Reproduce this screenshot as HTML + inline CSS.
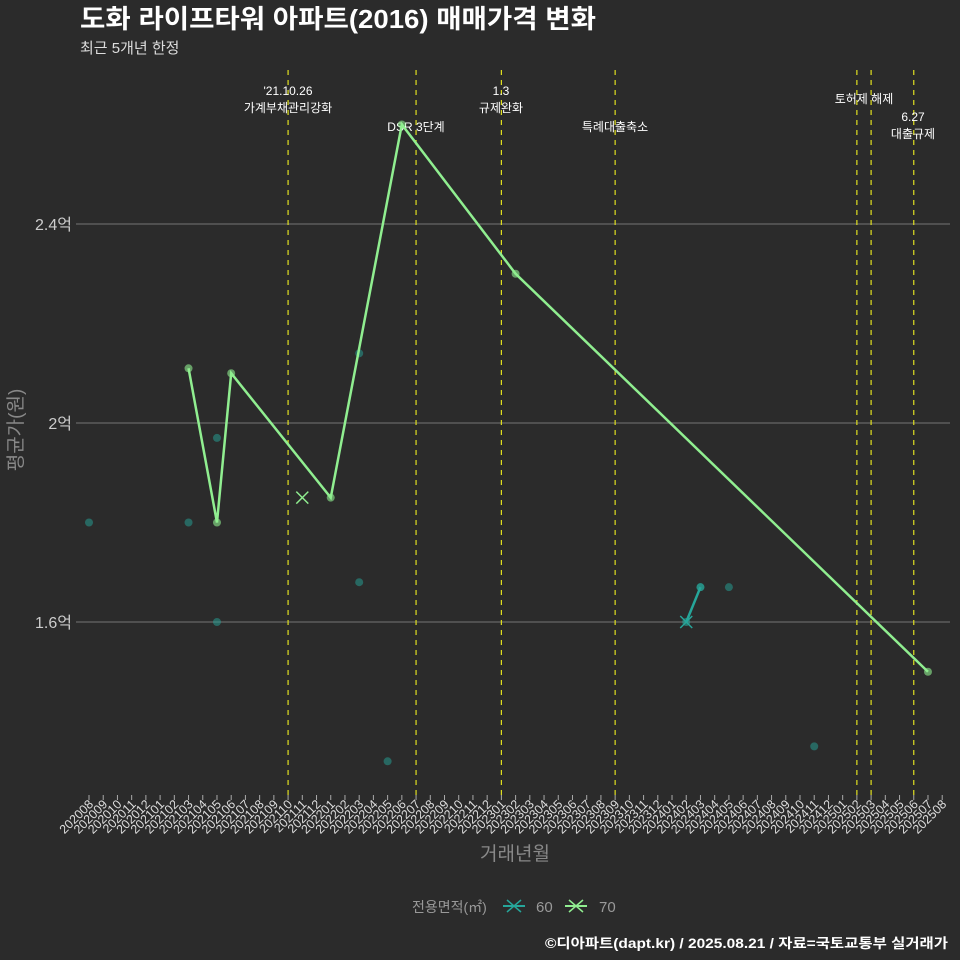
<!DOCTYPE html>
<html><head><meta charset="utf-8"><style>
body{margin:0;background:#2b2b2b;}
svg{display:block;font-family:"Liberation Sans","Noto Sans CJK KR",sans-serif;}
</style></head><body>
<svg id="c" width="960" height="960" viewBox="0 0 960 960">
<rect width="960" height="960" fill="#2b2b2b"/>
<text x="80" y="28" font-size="26" font-weight="bold" fill="#fff" textLength="516" lengthAdjust="spacingAndGlyphs">도화 라이프타워 아파트(2016) 매매가격 변화</text>
<text x="80" y="53" font-size="15" fill="#ddd">최근 5개년 한정</text>
<g id="grid"></g><g id="vlines"></g><g id="xaxis"></g><g id="marks"></g>
<text x="22" y="430" font-size="19" fill="#888" text-anchor="middle" transform="rotate(-90 22 430)">평균가(원)</text>
<text x="515" y="860" font-size="19" fill="#888" text-anchor="middle">거래년월</text>
<g>
<text x="412" y="912" font-size="14" fill="#999">전용면적(㎡)</text>
<g><line x1="503" y1="906" x2="525" y2="906" stroke="#26a69a" stroke-width="2"/><path d="M507 900 L521 912 M521 900 L507 912" stroke="#26a69a" stroke-width="1.5"/><text x="536" y="912" font-size="15" fill="#999">60</text></g>
<g><line x1="565" y1="906" x2="587" y2="906" stroke="#90ee90" stroke-width="2"/><path d="M569 900 L583 912 M583 900 L569 912" stroke="#90ee90" stroke-width="1.5"/><text x="599" y="912" font-size="15" fill="#999">70</text></g>
</g>
<text x="948" y="948" font-size="13.5" font-weight="bold" fill="#fff" text-anchor="end" textLength="403" lengthAdjust="spacingAndGlyphs">©디아파트(dapt.kr) / 2025.08.21 / 자료=국토교통부 실거래가</text>
</svg>
<script>
const months=[];for(let y=2020;y<=2025;y++)for(let m=1;m<=12;m++){const s=y+String(m).padStart(2,'0');if(s>='202008'&&s<='202508')months.push(s);}
const yTicks=[1.6,2.0,2.4];
const yTickLabels=['1.6억','2억','2.4억'];
const s70Months=['202103','202105','202106','202201','202206','202302','202507'];
const s70Values=[2.11,1.80,2.10,1.85,2.60,2.30,1.50];
const s60Months=['202402','202403'];
const s60Values=[1.60,1.67];
const xMarkMonths=['202111'];
const xMarkValues=[1.85];
const dots60Months=['202008','202103','202105','202105','202203','202203','202205','202403','202405','202411'];
const dots60Values=[1.80,1.80,1.97,1.60,2.14,1.68,1.32,1.67,1.67,1.35];
const eventMonths=['202110','202207','202301','202309','202502','202503','202506'];
const eventLabels=[["'21.10.26","가계부채관리강화"],["DSR 3단계"],["1.3","규제완화"],["특례대출축소"],["토허제 해제"],[],["6.27","대출규제"]];
const eventLabelY=[95,131,95,131,103,0,121];
const eventLabelX=[288,416,501,615,864,0,913];
const NS='http://www.w3.org/2000/svg';
const x=m=>89+months.indexOf(m)*14.22;
const y=v=>423-(v-2)*497.5;
function mk(t,a,p){const e=document.createElementNS(NS,t);for(const k in a)e.setAttribute(k,a[k]);p.appendChild(e);return e;}
const grid=document.getElementById('grid');
yTicks.forEach((v,i)=>{const l=mk('line',{x1:76,x2:950,y1:y(v),y2:y(v),stroke:'#666','stroke-width':1.2},grid);


const t=mk('text',{x:72,y:y(v)+6,'font-size':16,fill:'#ccc','text-anchor':'end'},grid);t.textContent=yTickLabels[i];

});
const vl=document.getElementById('vlines');
eventMonths.forEach((m,i)=>{const l=mk('line',{x1:x(m),x2:x(m),y1:70,y2:800,stroke:'#e0e020','stroke-width':1.2,'stroke-dasharray':'5,5'},vl);


eventLabels[i].forEach((s,j)=>{const t=mk('text',{x:eventLabelX[i],y:eventLabelY[i]+j*17,'font-size':12,fill:'#fff','text-anchor':'middle'},vl);t.textContent=s;

});});
const xa=document.getElementById('xaxis');
months.forEach(m=>{const xx=x(m);mk('line',{x1:xx,x2:xx,y1:795,y2:800,stroke:'#aaa'},xa);
const t=mk('text',{x:xx+5,y:805,'font-size':12.5,fill:'#ddd','text-anchor':'end',transform:`rotate(-45 ${xx+5} 805)`},xa);t.textContent=m;

});
const mg=document.getElementById('marks');
dots60Months.forEach((m,i)=>{const c=mk('circle',{cx:x(m),cy:y(dots60Values[i]),r:4,fill:'#26a69a','fill-opacity':0.5},mg);

});
function line(ms,vs,col,name){const p=mk('polyline',{points:ms.map((m,i)=>x(m)+','+y(vs[i])).join(' '),fill:'none',stroke:col,'stroke-width':2.5},mg);


ms.forEach((m,i)=>{const c=mk('circle',{cx:x(m),cy:y(vs[i]),r:4,fill:col,'fill-opacity':0.6},mg);

});}
line(s70Months,s70Values,'#90ee90','line-70');
line(s60Months,s60Values,'#26a69a','line-60');
function xm(m,v,col){const xx=x(m),yy=y(v);const p=mk('path',{d:`M${xx-6} ${yy-6}L${xx+6} ${yy+6}M${xx+6} ${yy-6}L${xx-6} ${yy+6}`,stroke:col,'stroke-width':1.5},mg);

}
xMarkMonths.forEach((m,i)=>xm(m,xMarkValues[i],'#90ee90'));
xm(s60Months[0],s60Values[0],'#26a69a');
</script>
</body></html>
